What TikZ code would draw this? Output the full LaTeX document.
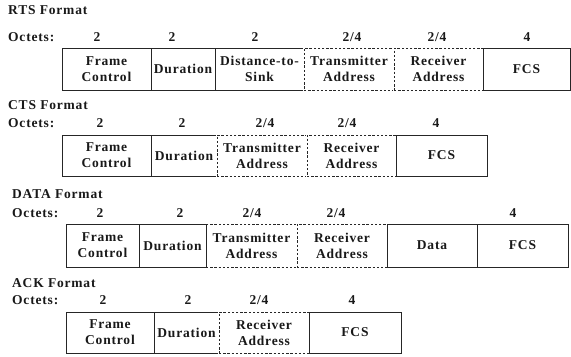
\documentclass[tikz,border=0pt]{standalone}
\usepackage{fontspec}
\setmainfont{Liberation Serif}[LetterSpace=6]
\begin{document}
\begin{tikzpicture}[x=1bp, y=-1bp,
    font=\fontsize{13.5bp}{16bp}\selectfont\bfseries,
    every node/.style={text=black!90},
    field/.style={draw=black!85, line width=0.8bp, fill=white, align=center, inner sep=1bp},
    optfield/.style={field, dash pattern=on 2.4bp off 1.8bp, preaction={draw=white, solid, line width=2bp}},
    title/.style={anchor=west, inner sep=0pt},
    octet/.style={inner sep=0pt}]
    \useasboundingbox (0,0) rectangle (571,356);

    % RTS
    \node[title] (rts) at (8,10) {RTS Format};
    \node[title] (rtsoct) at (8,37) {Octets:};
    \node[octet] (rtsn1) at (97,37) {2};
    \node[octet] (rtsn2) at (172,37) {2};
    \node[octet] (rtsn3) at (255,37) {2};
    \node[octet] (rtsn4) at (352,37) {2/4};
    \node[octet] (rtsn5) at (437,37) {2/4};
    \node[octet] (rtsn6) at (527,37) {4};
    \node[field, minimum width=89bp, minimum height=42bp] (rtsfc) at (106.5,69) {Frame\\Control};
    \node[field, minimum width=64bp, minimum height=42bp] (rtsdur) at (183,69) {Duration};
    \node[field, minimum width=89bp, minimum height=42bp] (rtsdist) at (259.5,69) {Distance-to-\\Sink};
    \node[optfield, minimum width=90bp, minimum height=42bp] (rtstx) at (349,69) {Transmitter\\Address};
    \node[optfield, minimum width=89bp, minimum height=42bp] (rtsrx) at (438.5,69) {Receiver\\Address};
    \node[field, minimum width=87bp, minimum height=42bp] (rtsfcs) at (526.5,69) {FCS};

    % CTS
    \node[title] (cts) at (8,105) {CTS Format};
    \node[title] (ctsoct) at (8,123) {Octets:};
    \node[octet] (ctsn1) at (100,123) {2};
    \node[octet] (ctsn2) at (182,123) {2};
    \node[octet] (ctsn3) at (265,123) {2/4};
    \node[octet] (ctsn4) at (347,123) {2/4};
    \node[octet] (ctsn5) at (436,123) {4};
    \node[field, minimum width=89bp, minimum height=41bp] (ctsfc) at (106.5,155.5) {Frame\\Control};
    \node[field, minimum width=66bp, minimum height=41bp] (ctsdur) at (184,155.5) {Duration};
    \node[optfield, minimum width=90bp, minimum height=41bp] (ctstx) at (262,155.5) {Transmitter\\Address};
    \node[optfield, minimum width=89bp, minimum height=41bp] (ctsrx) at (351.5,155.5) {Receiver\\Address};
    \node[field, minimum width=91bp, minimum height=41bp] (ctsfcs) at (441.5,155.5) {FCS};

    % DATA
    \node[title] (data) at (12,194) {DATA Format};
    \node[title] (dataoct) at (12,213) {Octets:};
    \node[octet] (datan1) at (100,213) {2};
    \node[octet] (datan2) at (180,213) {2};
    \node[octet] (datan3) at (252,213) {2/4};
    \node[octet] (datan4) at (336,213) {2/4};
    \node[octet] (datan5) at (513,213) {4};
    \node[field, minimum width=73bp, minimum height=43bp] (datafc) at (102.5,245.5) {Frame\\Control};
    \node[optfield, minimum width=91bp, minimum height=43bp] (datatx) at (251.5,245.5) {Transmitter\\Address};
    \node[field, minimum width=67bp, minimum height=43bp] (datadur) at (172.5,245.5) {Duration};
    \node[optfield, minimum width=90bp, minimum height=43bp] (datarx) at (342,245.5) {Receiver\\Address};
    \node[field, minimum width=90bp, minimum height=43bp] (datapl) at (432,245.5) {Data};
    \node[field, minimum width=91bp, minimum height=43bp] (datafcs) at (522.5,245.5) {FCS};

    % ACK
    \node[title] (ack) at (12,283) {ACK Format};
    \node[title] (ackoct) at (12,300) {Octets:};
    \node[octet] (ackn1) at (103,300) {2};
    \node[octet] (ackn2) at (188,300) {2};
    \node[octet] (ackn3) at (259,300) {2/4};
    \node[octet] (ackn4) at (352,300) {4};
    \node[field, minimum width=88bp, minimum height=41bp] (ackfc) at (110,332.5) {Frame\\Control};
    \node[field, minimum width=65bp, minimum height=41bp] (ackdur) at (186.5,332.5) {Duration};
    \node[optfield, minimum width=90bp, minimum height=41bp] (ackrx) at (264,332.5) {Receiver\\Address};
    \node[field, minimum width=92bp, minimum height=41bp] (ackfcs) at (355,332.5) {FCS};
\end{tikzpicture}
\end{document}
